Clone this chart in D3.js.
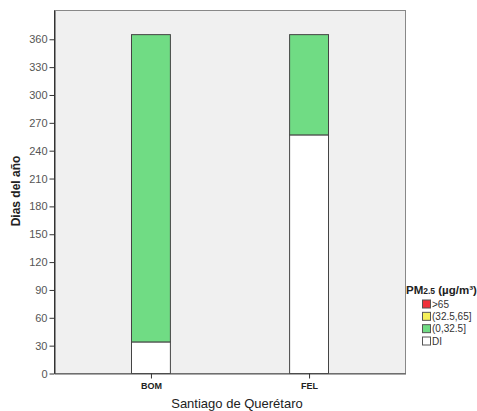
<!DOCTYPE html>
<html><head><meta charset="utf-8">
<script src="https://cdn.jsdelivr.net/npm/d3@7"></script>
<style>body{margin:0;background:#fff;overflow:hidden;}svg{display:block;font-family:"Liberation Sans",Arial,sans-serif;}</style>
</head><body>
<svg id="c" width="477" height="411"></svg>
<script>
const categories = ["BOM", "FEL"];
const seriesKeys = ["DI", "(0,32.5]", "(32.5,65]", ">65"];
const valDI = [34, 257];
const valLow = [331, 108];
const valMid = [0, 0];
const valHigh = [0, 0];
const yTicks = [0,30,60,90,120,150,180,210,240,270,300,330,360];
const legendLabels = [">65", "(32.5,65]", "(0,32.5]", "DI"];
const colors = {"DI":"#ffffff","(0,32.5]":"#70dc84","(32.5,65]":"#f5f05a",">65":"#f0323c"};

const table = categories.map((c,i)=>({cat:c,"DI":valDI[i],"(0,32.5]":valLow[i],"(32.5,65]":valMid[i],">65":valHigh[i]}));
const stacked = d3.stack().keys(seriesKeys)(table);

const svg = d3.select("#c");
const L=54.5, R=405.5, T=10.5, B=373.5;
const x = d3.scalePoint().domain(categories).range([L,R]).padding(0.61);
const y = d3.scaleLinear().domain([0,391]).range([B,T]);
const bw = x.step()*0.246;

svg.append("rect").attr("x",L).attr("y",T).attr("width",R-L).attr("height",B-T)
  .attr("fill","#f0f0f0").attr("stroke","#888").attr("stroke-width",1);

const g = svg.append("g");
stacked.forEach(s=>{
  g.selectAll(null).data(s.filter(d=>d[1]-d[0]>0)).enter().append("rect")
    .attr("x",d=>x(d.data.cat)-bw/2).attr("width",bw)
    .attr("y",d=>y(d[1])).attr("height",d=>y(d[0])-y(d[1]))
    .attr("fill",colors[s.key]).attr("stroke","#444").attr("stroke-width",1);
});

// y axis
const ya = svg.append("g").attr("transform",`translate(${L},0)`)
  .call(d3.axisLeft(y).tickValues(yTicks).tickSize(5).tickPadding(2).tickSizeOuter(0));
ya.select(".domain").attr("stroke","#333");
ya.selectAll("line").attr("stroke","#333");
ya.selectAll("text").attr("fill","#555").attr("font-size","11px").attr("font-family","Liberation Sans, Arial, sans-serif");
svg.append("line").attr("x1",L).attr("x2",L).attr("y1",T).attr("y2",B).attr("stroke","#333");

// x axis
const xa = svg.append("g").attr("transform",`translate(0,${B})`)
  .call(d3.axisBottom(x).tickSize(5).tickPadding(4).tickSizeOuter(0));
xa.select(".domain").attr("stroke","#555");
xa.selectAll("line").attr("stroke","#333");
xa.selectAll("text").attr("fill","#222").attr("font-size","9px").attr("font-weight","bold").attr("font-family","Liberation Sans, Arial, sans-serif");

svg.append("text").attr("x",237).attr("y",408).attr("text-anchor","middle")
  .attr("font-size","13px").attr("fill","#222").text("Santiago de Querétaro");
svg.append("text").attr("transform","translate(20,191) rotate(-90)").attr("text-anchor","middle")
  .attr("font-size","12px").attr("font-weight","bold").attr("fill","#222").text("Dias del año");

// legend
const lg = svg.append("g");
const title = lg.append("text").attr("x",406).attr("y",294).attr("font-size","11.5px").attr("font-weight","bold").attr("fill","#222");
title.append("tspan").text("PM");
title.append("tspan").attr("font-size","8.5px").text("2.5");
title.append("tspan").text(" (µg/m³)");
const ly = d3.scalePoint().domain(legendLabels).range([304,341]);
legendLabels.forEach(l=>{
  lg.append("rect").attr("x",422.5).attr("y",ly(l)-4).attr("width",8).attr("height",8)
    .attr("fill",colors[l]).attr("stroke","#555").attr("stroke-width",1);
  lg.append("text").attr("x",432).attr("y",ly(l)+3.5).attr("font-size","10px").attr("fill","#333").text(l);
});
</script>
</body></html>
